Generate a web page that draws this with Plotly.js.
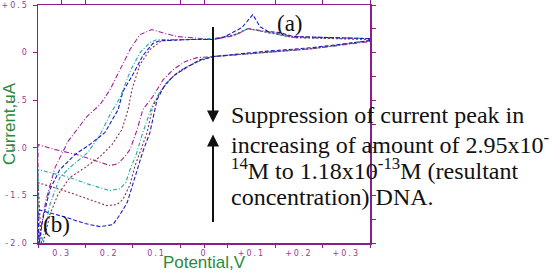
<!DOCTYPE html>
<html>
<head>
<meta charset="utf-8">
<script src="https://cdn.plot.ly/plotly-3.0.1.min.js"></script>
<style>
  html, body { margin: 0; padding: 0; background: #ffffff; }
  #chart { width: 552px; height: 272px; }
  .xtick text, .ytick text { letter-spacing: 2px; }
</style>
</head>
<body>
<div id="chart"></div>
<script>
// Cyclic voltammograms: each run sweeps left along the upper branch,
// then returns to the right along the lower branch.
const purpleV = [0.350, 0.266, 0.188, 0.146, 0.093, 0.065, 0.019, -0.030, -0.055, -0.082, -0.110, -0.135, -0.156, -0.177, -0.198, -0.219, -0.247, -0.287, -0.314, -0.333, -0.344, -0.350,
                 -0.350, -0.314, -0.268, -0.230, -0.198, -0.181, -0.167, -0.156, -0.141, -0.129, -0.108, -0.086, -0.065, -0.040, -0.015, 0.019, 0.124, 0.230, 0.350];
const purpleI = [0.147, 0.158, 0.168, 0.210, 0.252, 0.179, 0.137, 0.158, 0.168, 0.200, 0.242, 0.189, 0.032, -0.179, -0.389, -0.546, -0.672, -0.935, -1.208, -1.544, -1.859, -2.017,
                 -0.966, -1.019, -1.071, -1.134, -1.187, -1.166, -1.092, -1.019, -0.809, -0.599, -0.462, -0.284, -0.179, -0.095, -0.053, -0.042, 0.000, 0.042, 0.116];

const cyanV = [0.350, 0.188, 0.146, 0.093, 0.065, 0.019, -0.030, -0.082, -0.099, -0.114, -0.135, -0.156, -0.177, -0.198, -0.219, -0.245, -0.283, -0.304, -0.325, -0.338, -0.346,
               -0.350, -0.289, -0.241, -0.198, -0.177, -0.165, -0.156, -0.143, -0.129, -0.110, -0.093, -0.072, -0.051, -0.008, 0.019, 0.124, 0.230, 0.350];
const cyanI = [0.147, 0.158, 0.200, 0.252, 0.189, 0.147, 0.137, 0.137, 0.137, 0.105, 0.000, -0.200, -0.473, -0.651, -0.861, -1.050, -1.208, -1.313, -1.597, -1.912, -2.069,
               -1.229, -1.303, -1.387, -1.450, -1.429, -1.366, -1.229, -1.071, -0.840, -0.567, -0.410, -0.284, -0.189, -0.084, -0.042, 0.000, 0.042, 0.126];

const brownV = [0.350, 0.188, 0.146, 0.093, 0.065, 0.019, -0.030, -0.082, -0.089, -0.114, -0.135, -0.152, -0.160, -0.173, -0.194, -0.219, -0.251, -0.283, -0.308, -0.325, -0.338, -0.342,
                -0.350, -0.289, -0.241, -0.205, -0.184, -0.171, -0.156, -0.146, -0.120, -0.108, -0.089, -0.068, -0.040, -0.008, 0.019, 0.124, 0.230, 0.350];
const brownI = [0.137, 0.158, 0.200, 0.252, 0.189, 0.137, 0.137, 0.126, 0.126, 0.032, -0.126, -0.389, -0.599, -0.809, -0.966, -1.092, -1.208, -1.313, -1.492, -1.702, -1.964, -2.069,
                -1.366, -1.460, -1.544, -1.607, -1.597, -1.544, -1.387, -1.197, -0.840, -0.567, -0.389, -0.263, -0.158, -0.084, -0.042, 0.000, 0.042, 0.126];

const blueV = [0.350, 0.188, 0.160, 0.135, 0.118, 0.103, 0.080, 0.040, 0.019, -0.030, -0.082, -0.093, -0.108, -0.129, -0.150, -0.171, -0.181, -0.209, -0.241, -0.272, -0.304, -0.325, -0.340, -0.348,
               -0.350, -0.289, -0.251, -0.219, -0.192, -0.177, -0.162, -0.150, -0.139, -0.129, -0.114, -0.099, -0.082, -0.061, -0.030, -0.008, 0.019, 0.124, 0.230, 0.350];
const blueI = [0.147, 0.168, 0.210, 0.221, 0.273, 0.399, 0.263, 0.158, 0.137, 0.137, 0.126, 0.126, 0.095, -0.032, -0.231, -0.410, -0.599, -0.840, -0.966, -1.071, -1.229, -1.439, -1.754, -2.017,
               -1.649, -1.733, -1.796, -1.828, -1.807, -1.702, -1.576, -1.387, -1.197, -1.040, -0.840, -0.494, -0.336, -0.231, -0.137, -0.074, -0.042, 0.011, 0.053, 0.126];

// Axis labelling
const potentialTicks = [-0.3, -0.2, -0.1, 0, 0.1, 0.2, 0.3];
const potentialTickText = ['0.3', '0.2', '0.1', '0', '+0.1', '+0.2', '+0.3'];
const potentialMarks = [-0.35, -0.25, -0.15, -0.05, 0, 0.05, 0.15, 0.25, 0.35];
const potentialTopMarks = [-0.3, -0.25, -0.05, 0, 0.15, 0.25, 0.35];
const currentTicks = [0.5, 0, -0.5, -1.0, -1.5, -2.0];
const currentTickText = ['+0.5', '0', '-0.5', '-1.0', '-1.5', '-2.0'];
const currentRightMarks = [0.5, 0.25, 0, -0.25, -0.5, -0.75, -1.0, -1.25, -1.5, -1.75, -2.0];

const noteLines = [
  'Suppression of current peak in',
  'increasing of amount of 2.95x10<sup>-</sup>',
  '<sup>14</sup>M to 1.18x10<sup>-13</sup>M (resultant',
  'concentration) DNA.'
];

const frameColor = '#8a1f8a';
const labelColor = '#9a3a9a';
const titleColor = '#2a8a3c';
const serif = 'Times New Roman, Liberation Serif, serif';

function sweep(v, i, color, dash) {
  return { x: v, y: i, type: 'scatter', mode: 'lines', hoverinfo: 'skip',
           line: { color: color, width: 1.1, dash: dash } };
}

const traces = [
  sweep(purpleV, purpleI, '#a0229f', '5px,2px,1px,2px'),
  sweep(cyanV, cyanI, '#1ea9a9', '4px,2px,1px,2px'),
  sweep(brownV, brownI, '#8c3350', '2px,2px'),
  sweep(blueV, blueI, '#1c1cc0', '4px,2px'),
  { x: [], y: [], xaxis: 'x2', yaxis: 'y', type: 'scatter', hoverinfo: 'skip', showlegend: false },
  { x: [], y: [], xaxis: 'x3', yaxis: 'y', type: 'scatter', hoverinfo: 'skip', showlegend: false },
  { x: [], y: [], xaxis: 'x', yaxis: 'y2', type: 'scatter', hoverinfo: 'skip', showlegend: false }
];

const annotations = noteLines.map((t, k) => ({
  xref: 'paper', yref: 'paper', x: 0.5753, y: [0.5378, 0.4200, 0.3109, 0.1933][k],
  xanchor: 'left', yanchor: 'middle', showarrow: false, align: 'left',
  text: t, font: { family: serif, size: 24, color: '#111111' }
}));
annotations.push(
  { xref: 'paper', yref: 'paper', x: 0.759, y: 0.924, xanchor: 'center', yanchor: 'middle',
    showarrow: false, text: '(a)', font: { family: serif, size: 23, color: '#111111' } },
  { xref: 'paper', yref: 'paper', x: 0.0572, y: 0.0798, xanchor: 'center', yanchor: 'middle',
    showarrow: false, text: '(b)', font: { family: serif, size: 23, color: '#111111' } },
  { x: 0.019, y: -0.735, ax: 0, ay: -97, text: '', showarrow: true, arrowhead: 2,
    arrowsize: 1.2, arrowwidth: 2, arrowcolor: '#111111', standoff: 0 },
  { x: 0.019, y: -0.861, ax: 0, ay: 89, text: '', showarrow: true, arrowhead: 2,
    arrowsize: 1.2, arrowwidth: 2, arrowcolor: '#111111', standoff: 0 }
);

const tickFont = { family: 'DejaVu Sans, sans-serif', size: 8, color: labelColor };

const layout = {
  width: 552, height: 272, autosize: false,
  margin: { l: 38, r: 182, t: 5, b: 29, pad: 0 },
  paper_bgcolor: '#ffffff', plot_bgcolor: '#ffffff',
  showlegend: false,
  xaxis: {
    range: [-0.35, 0.35], tickvals: potentialTicks, ticktext: potentialTickText,
    ticks: '', showline: true, mirror: true, linecolor: frameColor, linewidth: 1.5,
    showgrid: false, zeroline: false, tickfont: tickFont, ticklabelstandoff: 2,
    title: { text: 'Potential,V', standoff: 3,
             font: { family: 'Liberation Sans, Arial, sans-serif', size: 17, color: titleColor } }
  },
  xaxis2: {
    overlaying: 'x', anchor: 'y', side: 'bottom', range: [-0.35, 0.35],
    tickvals: potentialMarks, ticks: 'outside', ticklen: 4, tickwidth: 1, tickcolor: frameColor,
    showticklabels: false, showline: false, showgrid: false, zeroline: false
  },
  xaxis3: {
    overlaying: 'x', anchor: 'y', side: 'top', range: [-0.35, 0.35],
    tickvals: potentialTopMarks, ticks: 'outside', ticklen: 4, tickwidth: 1, tickcolor: frameColor,
    showticklabels: false, showline: false, showgrid: false, zeroline: false
  },
  yaxis: {
    range: [-2.0, 0.5], tickvals: currentTicks, ticktext: currentTickText,
    ticks: 'outside', ticklen: 4, tickwidth: 1, tickcolor: frameColor,
    showline: true, mirror: true, linecolor: frameColor, linewidth: 1.5,
    showgrid: false, zeroline: false, tickfont: tickFont, ticklabelstandoff: 2,
    title: { text: 'Current,uA', standoff: 6,
             font: { family: 'Liberation Sans, Arial, sans-serif', size: 17, color: titleColor } }
  },
  yaxis2: {
    overlaying: 'y', anchor: 'x', side: 'right', range: [-2.0, 0.5],
    tickvals: currentRightMarks, ticks: 'outside', ticklen: 5, tickwidth: 1, tickcolor: frameColor,
    showticklabels: false, showline: false, showgrid: false, zeroline: false
  },
  annotations: annotations
};

Plotly.newPlot('chart', traces, layout, { staticPlot: true, displayModeBar: false });
</script>
</body>
</html>
